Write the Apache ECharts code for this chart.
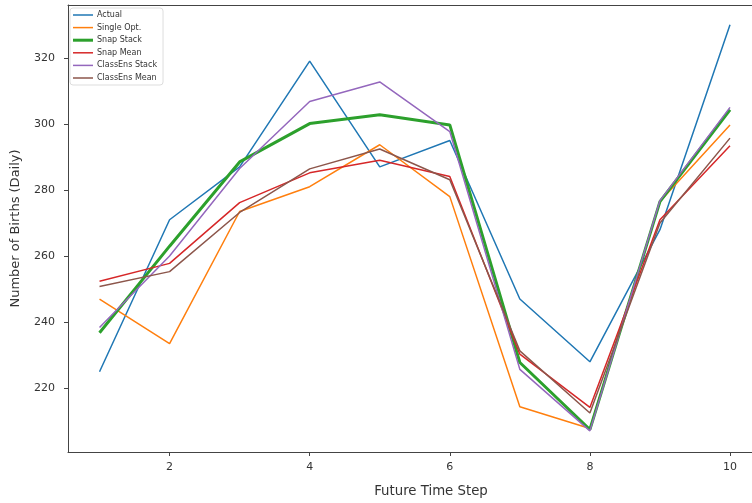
<!DOCTYPE html>
<html>
<head>
<meta charset="utf-8">
<script src="https://cdn.jsdelivr.net/npm/echarts@6/dist/echarts.min.js"></script>
<style>
  html, body { margin: 0; padding: 0; background: #fff; }
  #chart { width: 752px; height: 503px; }
</style>
</head>
<body>
<div id="chart"></div>
<script>
// Forecast horizon (days ahead)
const steps = [1, 2, 3, 4, 5, 6, 7, 8, 9, 10];

// Daily births: observed values and each forecasting method
const actual        = [225, 271, 287, 319, 287, 295, 247, 228, 268, 330];
const singleOpt     = [247, 233.5, 273.5, 281, 293.7, 278, 214.4, 207.8, 276.5, 299.7];
const snapStack     = [236.8, 263, 288.5, 300.1, 302.8, 299.7, 227.8, 207.5, 276.5, 304.3];
const snapMean      = [252.4, 257.8, 276.2, 285.2, 289, 284.1, 230.3, 214.2, 271, 293.4];
const classEnsStack = [238.4, 260, 286.5, 306.8, 312.7, 297.7, 225.7, 207.1, 276.8, 305];
const classEnsMean  = [250.8, 255.3, 273.2, 286.4, 292.4, 283.1, 231.3, 212.5, 270, 295.7];

const yTicks = [220, 240, 260, 280, 300, 320];
const xTicks = [2, 4, 6, 8, 10];

const seriesDefs = [
  { name: 'Actual',         data: actual,        color: '#1f77b4', width: 1.5 },
  { name: 'Single Opt.',    data: singleOpt,     color: '#ff7f0e', width: 1.5 },
  { name: 'Snap Stack',     data: snapStack,     color: '#2ca02c', width: 3 },
  { name: 'Snap Mean',      data: snapMean,      color: '#d62728', width: 1.5 },
  { name: 'ClassEns Stack', data: classEnsStack, color: '#9467bd', width: 1.5 },
  { name: 'ClassEns Mean',  data: classEnsMean,  color: '#8c564b', width: 1.5 }
];

// Legend swatches: plain line segments, thickness following each series
const lineIcon = w => 'path://M0,0h20v' + w + 'h-20z';

const font = 'DejaVu Sans';
const axisColor = '#444';
const chart = echarts.init(document.getElementById('chart'), null, { renderer: 'canvas' });

chart.setOption({
  animation: false,
  backgroundColor: '#fff',
  textStyle: { fontFamily: font },
  grid: { left: 68, top: 5, right: 0, bottom: 50 },
  legend: {
    orient: 'vertical',
    left: 70, top: 8,
    itemWidth: 20, itemHeight: 8, itemGap: 4.6,
    padding: [3, 6, 3, 3],
    backgroundColor: '#fff',
    borderColor: '#ddd', borderWidth: 1, borderRadius: 3,
    textStyle: { fontFamily: font, fontSize: 8, color: '#333', padding: [0, 0, 0, -1] },
    data: seriesDefs.map(s => ({ name: s.name, icon: lineIcon(s.width) }))
  },
  xAxis: [{
    type: 'value',
    min: 0.55, max: 10.314,
    name: 'Future Time Step',
    nameLocation: 'middle',
    nameGap: 33,
    nameTextStyle: { fontFamily: font, fontSize: 13.3, color: '#333', padding: [0, 0, 0, 42] },
    axisLine: { show: true, lineStyle: { color: axisColor, width: 1 } },
    axisTick: { show: true, length: 4, lineStyle: { color: axisColor }, customValues: xTicks },
    axisLabel: { fontFamily: font, fontSize: 11, color: '#333', margin: 10, customValues: xTicks },
    splitLine: { show: false }
  }, {
    // top frame line
    type: 'value',
    position: 'top',
    min: 0.55, max: 10.314,
    axisLine: { show: true, lineStyle: { color: axisColor, width: 1 } },
    axisTick: { show: false },
    axisLabel: { show: false },
    splitLine: { show: false }
  }],
  yAxis: {
    type: 'value',
    min: 200.7, max: 336,
    name: 'Number of Births (Daily)',
    nameLocation: 'middle',
    nameGap: 46,
    nameTextStyle: { fontFamily: font, fontSize: 13, color: '#333' },
    axisLine: { show: true, lineStyle: { color: axisColor, width: 1 } },
    axisTick: { show: true, length: 4, lineStyle: { color: axisColor }, customValues: yTicks },
    axisLabel: { fontFamily: font, fontSize: 11, color: '#333', margin: 13, customValues: yTicks },
    splitLine: { show: false }
  },
  series: seriesDefs.map(s => ({
    name: s.name,
    type: 'line',
    xAxisIndex: 0,
    data: steps.map((x, i) => [x, s.data[i]]),
    symbol: 'none',
    color: s.color,
    lineStyle: { color: s.color, width: s.width },
    emphasis: { disabled: true }
  }))
});
</script>
</body>
</html>
